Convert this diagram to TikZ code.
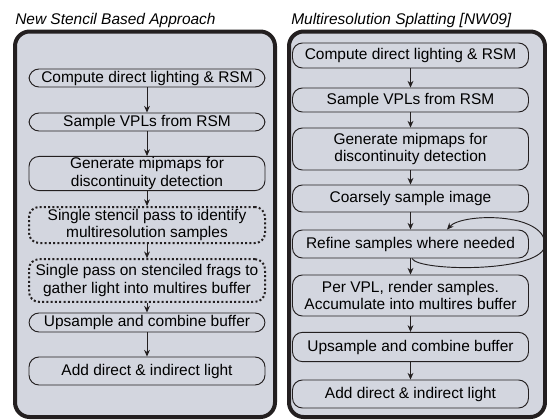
\documentclass[tikz,border=0pt]{standalone}
\usepackage{fontspec}
\setmainfont{Liberation Sans}
\usetikzlibrary{
  arrows.meta,
  positioning,
  calc,
}
\definecolor{panelbg}{RGB}{211,214,223}
\definecolor{inkcol}{RGB}{35,31,32}
\newcommand\stagefont{\fontsize{11.6}{12.8}\selectfont}
\tikzset{
  panel/.style={draw=inkcol, line width=3pt, fill=panelbg, rounded corners=11pt},
  stagebox/.style={
    rectangle, draw=inkcol, line width=0.7pt, rounded corners=7.5pt,
    minimum width=177pt, inner xsep=1pt, inner ysep=1pt,
    align=center, font=\stagefont
  },
  dotbox/.style={stagebox, line width=1.5pt, dash pattern=on 1.5pt off 1.7pt},
  flow/.style={-{Stealth[length=5pt,width=4.4pt]}, draw=inkcol, line width=0.7pt},
  headtitle/.style={anchor=base west, inner sep=0pt, font=\itshape\stagefont},
}

\begin{document}
\begin{tikzpicture}[x=0.75pt, y=-0.75pt]
  \useasboundingbox (0,0) rectangle (547,419);

  % ── Panels ──
  \draw[panel] (15,31.5) rectangle (275,417);
  \draw[panel] (289,31.5) rectangle (545,417);

  % ── Titles ──
  \node[headtitle] (ltitle) at (15,24)  {New Stencil Based Approach};
  \node[headtitle] (rtitle) at (291,24) {Multiresolution Splatting [NW09]};

  % ── Left column: stencil pipeline ──
  \node[stagebox, minimum height=13.5pt] (l1) at (147,78)    {Compute direct lighting \& RSM};
  \node[stagebox, minimum height=13.5pt] (l2) at (147,122)   {Sample VPLs from RSM};
  \node[stagebox, minimum height=24.5pt] (l3) at (147,173.5) {Generate mipmaps for\\discontinuity detection};
  \node[dotbox,   minimum height=27pt]   (l4) at (147,225)   {Single stencil pass to identify\\multiresolution samples};
  \node[dotbox,   minimum height=32pt]   (l5) at (147,280.5) {Single pass on stenciled frags to\\gather light into multires buffer};
  \node[stagebox, minimum height=14.25pt](l6) at (147,322.5) {Upsample and combine buffer};
  \node[stagebox, minimum height=21pt]   (l7) at (147,371)   {Add direct \& indirect light};

  % ── Right column: splatting pipeline ──
  \node[stagebox, minimum height=18.75pt](r1) at (410.5,55.5)  {Compute direct lighting \& RSM};
  \node[stagebox, minimum height=18pt]   (r2) at (410.5,100)   {Sample VPLs from RSM};
  \node[stagebox, minimum height=31.5pt] (r3) at (410.5,149)   {Generate mipmaps for\\discontinuity detection};
  \node[stagebox, minimum height=20.25pt](r4) at (410.5,198.5) {Coarsely sample image};
  \node[stagebox, minimum height=21pt]   (r5) at (410.5,244)   {Refine samples where needed};
  \node[stagebox, minimum height=30.75pt](r6) at (410.5,295.5) {Per VPL, render samples.\\Accumulate into multires buffer};
  \node[stagebox, minimum height=22pt]   (r7) at (410.5,347)   {Upsample and combine buffer};
  \node[stagebox, minimum height=21pt]   (r8) at (410.5,394)   {Add direct \& indirect light};

  % ── Step arrows ──
  \foreach \a/\b in {l1/l2, l2/l3, l3/l4, l4/l5, l5/l6, l6/l7,
                     r1/r2, r2/r3, r3/r4, r4/r5, r5/r6, r6/r7, r7/r8}
    \draw[flow] (\a) -- (\b);

  % ── Refinement loop ──
  \coordinate (loopout)  at ($(r5.south)+(1.5,0)$);
  \coordinate (loopturn) at (545,244);
  \coordinate (loopin)   at ($(r5.north)+(36.5,0)$);
  \draw[flow] (loopout) .. controls (418,272) and (546,273) .. (loopturn)
              .. controls (544,212) and (462,213) .. (loopin);

\end{tikzpicture}
\end{document}
